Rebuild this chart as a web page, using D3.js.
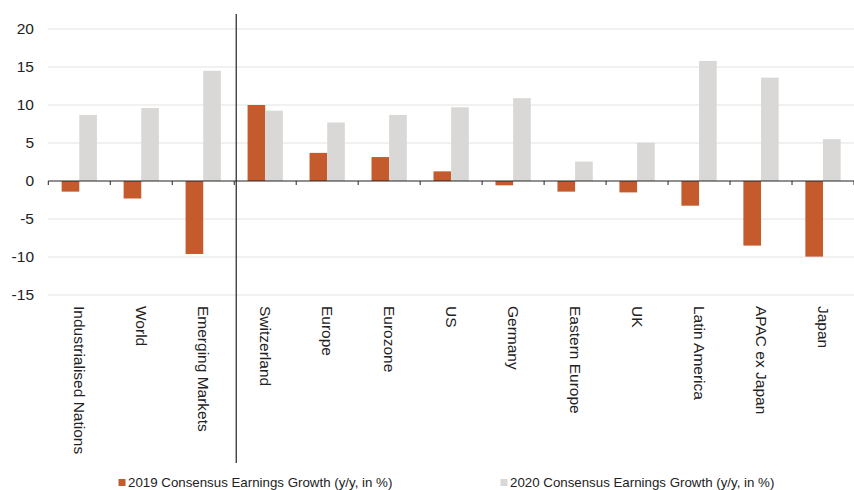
<!DOCTYPE html>
<html>
<head>
<meta charset="utf-8">
<script src="https://cdn.jsdelivr.net/npm/d3@7"></script>
<style>
  body { margin: 0; background: #fff; }
  svg { display: block; font-family: "Liberation Sans", Arial, sans-serif; }
</style>
</head>
<body>
<div id="chart"></div>
<script>
const categories = ['Industrialised Nations', 'World', 'Emerging Markets', 'Switzerland', 'Europe',
  'Eurozone', 'US', 'Germany', 'Eastern Europe', 'UK', 'Latin America', 'APAC ex Japan', 'Japan'];
const growth2019 = [-1.4, -2.3, -9.6, 10.0, 3.7, 3.15, 1.27, -0.57, -1.4, -1.5, -3.25, -8.5, -9.95];
const growth2020 = [8.7, 9.6, 14.5, 9.25, 7.7, 8.7, 9.7, 10.9, 2.55, 5.05, 15.8, 13.6, 5.5];
const seriesNames = ['2019 Consensus Earnings Growth (y/y, in %)', '2020 Consensus Earnings Growth (y/y, in %)'];
const seriesColors = ['#c55a2d', '#d9d8d6'];
const yTicks = [20, 15, 10, 5, 0, -5, -10, -15];

const width = 854, height = 490;
const svg = d3.select('#chart').append('svg').attr('width', width).attr('height', height);

const x = d3.scaleBand().domain(categories).range([48.3, 854]).padding(0);
const xInner = d3.scaleBand().domain([0, 1]).range([0, x.bandwidth()]).paddingInner(0).paddingOuter(0.756);
const y = d3.scaleLinear().domain([-15, 20]).range([295, 29]);

// gridlines
svg.append('g')
  .selectAll('line')
  .data(yTicks.filter(d => d !== 0))
  .enter()
  .append('line')
  .attr('x1', 48.3)
  .attr('x2', width)
  .attr('y1', d => y(d))
  .attr('y2', d => y(d))
  .attr('stroke', '#e3e3e3')
  .attr('stroke-width', 1.2);

// y axis labels (plain hyphen for negatives, like the original)
const yAxis = d3.axisLeft(y).tickValues(yTicks).tickSize(0).tickPadding(0).tickFormat(d => String(d));
svg.append('g')
  .attr('transform', 'translate(34,0)')
  .call(yAxis)
  .call(g => g.select('.domain').remove())
  .call(g => g.selectAll('text')
    .attr('font-size', 15.5)
    .attr('font-family', '"Liberation Sans", Arial, sans-serif')
    .attr('fill', '#222'));

// bars
const rows = categories.map((c, i) => ({ cat: c, vals: [growth2019[i], growth2020[i]] }));
const groups = svg.append('g')
  .selectAll('g')
  .data(rows)
  .enter()
  .append('g')
  .attr('transform', d => `translate(${x(d.cat)},0)`);

groups.selectAll('rect')
  .data(d => d.vals.map((v, k) => ({ v, k })))
  .enter()
  .append('rect')
  .attr('x', d => xInner(d.k))
  .attr('width', xInner.bandwidth())
  .attr('y', d => y(Math.max(0, d.v)))
  .attr('height', d => Math.abs(y(d.v) - y(0)))
  .attr('fill', d => seriesColors[d.k]);

// zero axis with ticks at band boundaries
const xAxis = d3.axisBottom(x).tickSize(0).tickFormat('');
svg.append('g')
  .attr('transform', `translate(0,${y(0)})`)
  .call(xAxis)
  .call(g => g.select('.domain').attr('stroke', '#222').attr('stroke-width', 1.2).attr('d', `M48.3,0H${width}`))
  .call(g => g.selectAll('.tick').remove());

svg.append('g')
  .selectAll('line')
  .data(d3.range(categories.length + 1))
  .enter()
  .append('line')
  .attr('x1', i => 48.3 + i * x.step())
  .attr('x2', i => 48.3 + i * x.step())
  .attr('y1', y(0))
  .attr('y2', y(0) + 4)
  .attr('stroke', '#222')
  .attr('stroke-width', 1);

// category labels, rotated
svg.append('g')
  .selectAll('text')
  .data(categories)
  .enter()
  .append('text')
  .attr('transform', d => `translate(${x(d) + x.bandwidth() / 2},306) rotate(90)`)
  .attr('dy', '0.35em')
  .attr('font-size', 15.5)
  .attr('fill', '#222')
  .text(d => d);

// separator between aggregates and regions
const sepX = x('Switzerland') + 2;
svg.append('line')
  .attr('x1', sepX).attr('x2', sepX)
  .attr('y1', 14).attr('y2', 463)
  .attr('stroke', '#222')
  .attr('stroke-width', 1.2);

// legend
const legendX = [118.5, 500.5];
const legend = svg.append('g')
  .selectAll('g')
  .data(seriesNames)
  .enter()
  .append('g')
  .attr('transform', (d, i) => `translate(${legendX[i]},479)`);
legend.append('rect')
  .attr('width', 7).attr('height', 7)
  .attr('fill', (d, i) => seriesColors[i]);
legend.append('text')
  .attr('x', 9.5)
  .attr('y', 8)
  .attr('font-size', 13.3)
  .attr('fill', '#222')
  .text(d => d);
</script>
</body>
</html>
